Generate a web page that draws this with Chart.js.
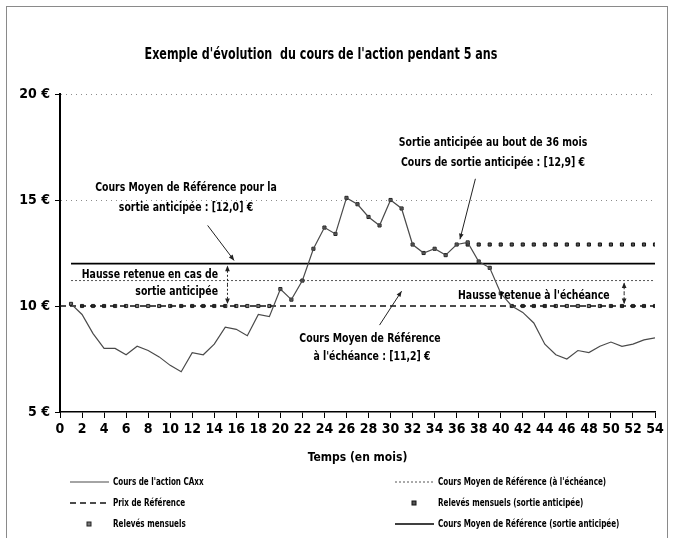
<!DOCTYPE html>
<html lang="fr">
<head>
<meta charset="utf-8">
<title>Exemple d'évolution du cours de l'action pendant 5 ans</title>
<script src="https://cdn.jsdelivr.net/npm/chart.js@4.4.1/dist/chart.umd.min.js"></script>
<style>
  html, body { margin: 0; padding: 0; background: #fff; }
</style>
</head>
<body>
<canvas id="evolution_cours" width="675" height="538"></canvas>
<script>
/* Données : cours mensuel de l'action et niveaux de référence */

const mois = [
    1, 2, 3, 4, 5, 6, 7, 8, 9, 10, 11, 12, 13, 14, 15, 16, 17, 18,
    19, 20, 21, 22, 23, 24, 25, 26, 27, 28, 29, 30, 31, 32, 33, 34, 35, 36,
    37, 38, 39, 40, 41, 42, 43, 44, 45, 46, 47, 48, 49, 50, 51, 52, 53, 54
];

const cours_action = [
    10.1, 9.6, 8.7, 8.0, 8.0, 7.7, 8.1, 7.9, 7.6, 7.2, 6.9, 7.8, 7.7, 8.2, 9.0, 8.9, 8.6, 9.6,
    9.5, 10.8, 10.3, 11.2, 12.7, 13.7, 13.4, 15.1, 14.8, 14.2, 13.8, 15.0, 14.6, 12.9, 12.5, 12.7, 12.4, 12.9,
    13.0, 12.1, 11.8, 10.6, 10.0, 9.7, 9.2, 8.2, 7.7, 7.5, 7.9, 7.8, 8.1, 8.3, 8.1, 8.2, 8.4, 8.5
];

const releves_mensuels = [
    10.1, 10, 10, 10, 10, 10, 10, 10, 10, 10, 10, 10, 10, 10, 10, 10, 10, 10,
    10, 10.8, 10.3, 11.2, 12.7, 13.7, 13.4, 15.1, 14.8, 14.2, 13.8, 15.0, 14.6, 12.9, 12.5, 12.7, 12.4, 12.9,
    13.0, 12.1, 11.8, 10.6, 10, 10, 10, 10, 10, 10, 10, 10, 10, 10, 10, 10, 10, 10
];

const mois_sortie = [37, 38, 39, 40, 41, 42, 43, 44, 45, 46, 47, 48, 49, 50, 51, 52, 53, 54];
const releves_sortie = [12.9, 12.9, 12.9, 12.9, 12.9, 12.9, 12.9, 12.9, 12.9, 12.9, 12.9, 12.9, 12.9, 12.9, 12.9, 12.9, 12.9, 12.9];

const mois_prix_reference = [0, 54];
const prix_reference = [10, 10];

const mois_cours_moyen = [1, 54];
const cours_moyen_echeance = [11.2, 11.2];
const cours_moyen_sortie = [12.0, 12.0];

const graduations_euros = [5, 10, 15, 20];
const graduations_mois = [0, 54, 2];

const police = "'Liberation Sans Narrow', 'DejaVu Sans Condensed', 'Liberation Sans', sans-serif";

function points(xs, ys) {
    return xs.map((x, i) => ({ x: x, y: ys[i] }));
}

/* Jeux de données : l'ordre correspond à la légende (colonne gauche puis droite) */

const data_evolution_cours = {
    datasets: [{
        label: "Cours de l'action CAxx",
        data: points(mois, cours_action),
        borderColor: '#4a4a4a',
        borderWidth: 1.2,
        pointRadius: 0,
        tension: 0,
    },
    {
        label: 'Prix de Référence',
        data: points(mois_prix_reference, prix_reference),
        borderColor: '#111',
        borderWidth: 1.5,
        borderDash: [6, 4],
        pointRadius: 0,
    },
    {
        label: 'Relevés mensuels',
        data: points(mois, releves_mensuels),
        showLine: false,
        pointStyle: 'rect',
        pointRadius: 2.2,
        backgroundColor: '#777',
        borderColor: '#222',
        borderWidth: 1,
    },
    {
        label: "Cours Moyen de Référence (à l'échéance)",
        data: points(mois_cours_moyen, cours_moyen_echeance),
        borderColor: '#555',
        borderWidth: 1,
        borderDash: [2, 2],
        pointRadius: 0,
    },
    {
        label: 'Relevés mensuels (sortie anticipée)',
        data: points(mois_sortie, releves_sortie),
        showLine: false,
        pointStyle: 'rect',
        pointRadius: 2.2,
        backgroundColor: '#555',
        borderColor: '#111',
        borderWidth: 1,
    },
    {
        label: 'Cours Moyen de Référence (sortie anticipée)',
        data: points(mois_cours_moyen, cours_moyen_sortie),
        borderColor: '#000',
        borderWidth: 1.6,
        pointRadius: 0,
    }
    ]
};

/* Flèches et textes d'annotation */

// texte gras étroit (police condensée resserrée horizontalement)
function texte(ctx, str, x, y, taille, align) {
    ctx.save();
    ctx.font = 'bold ' + taille + 'px ' + police;
    ctx.textAlign = align;
    ctx.textBaseline = 'middle';
    ctx.translate(x, y);
    ctx.scale(0.8, 1);
    ctx.fillText(str, 0, 0);
    ctx.restore();
}

function fleche(ctx, x1, y1, x2, y2, pointille) {
    ctx.save();
    ctx.strokeStyle = '#222';
    ctx.fillStyle = '#222';
    ctx.lineWidth = 1;
    ctx.setLineDash(pointille ? [2, 2] : []);
    ctx.beginPath();
    ctx.moveTo(x1, y1);
    ctx.lineTo(x2, y2);
    ctx.stroke();
    ctx.setLineDash([]);
    const a = Math.atan2(y2 - y1, x2 - x1);
    ctx.beginPath();
    ctx.moveTo(x2, y2);
    ctx.lineTo(x2 - 6 * Math.cos(a - 0.4), y2 - 6 * Math.sin(a - 0.4));
    ctx.lineTo(x2 - 6 * Math.cos(a + 0.4), y2 - 6 * Math.sin(a + 0.4));
    ctx.closePath();
    ctx.fill();
    ctx.restore();
}

function double_fleche(ctx, x, y1, y2) {
    const milieu = (y1 + y2) / 2;
    fleche(ctx, x, milieu, x, y1 + 2, true);
    fleche(ctx, x, milieu, x, y2 - 2, true);
}

const plugin_habillage = {
    id: 'habillage',
    beforeDraw(chart) {
        const ctx = chart.ctx;
        ctx.save();
        ctx.fillStyle = '#fff';
        ctx.fillRect(0, 0, chart.width, chart.height);
        ctx.strokeStyle = '#8a8a8a';
        ctx.lineWidth = 1;
        ctx.strokeRect(6.5, 6.5, 661, 540);
        ctx.restore();
    },
    afterDraw(chart) {
        const ctx = chart.ctx;
        const sx = chart.scales.x;
        const sy = chart.scales.y;
        const X = v => sx.getPixelForValue(v);
        const Y = v => sy.getPixelForValue(v);

        ctx.save();
        ctx.fillStyle = '#000';

        // titre
        texte(ctx, "Exemple d'évolution  du cours de l'action pendant 5 ans", 321, 55, 15.5, 'center');

        texte(ctx, 'Cours Moyen de Référence pour la', 186, 188, 13, 'center');
        texte(ctx, 'sortie anticipée : [12,0] €', 186, 208, 13, 'center');
        fleche(ctx, X(13.4), Y(13.8), X(15.8), Y(12.15), false);

        texte(ctx, 'Hausse retenue en cas de', 218, 275, 13, 'right');
        texte(ctx, 'sortie anticipée', 218, 292, 13, 'right');
        double_fleche(ctx, X(15.2), Y(cours_moyen_sortie[0]), Y(prix_reference[0]));

        texte(ctx, 'Sortie anticipée au bout de 36 mois', 493, 143, 13, 'center');
        texte(ctx, 'Cours de sortie anticipée : [12,9] €', 493, 163, 13, 'center');
        fleche(ctx, X(37.7), Y(16.0), X(36.3), Y(13.15), false);

        texte(ctx, 'Cours Moyen de Référence', 370, 339, 13, 'center');
        texte(ctx, "à l'échéance : [11,2] €", 372, 357, 13, 'center');
        fleche(ctx, X(29.0), Y(9.1), X(31.0), Y(10.7), false);

        texte(ctx, "Hausse retenue à l'échéance", 458, 296, 13, 'left');
        double_fleche(ctx, X(51.2), Y(cours_moyen_echeance[0]), Y(prix_reference[0]));

        // légende sur deux colonnes
        const colonnes = [70, 395];
        const lignes = [482, 503, 524];
        chart.data.datasets.forEach((ds, i) => {
            const x0 = colonnes[Math.floor(i / 3)];
            const y0 = lignes[i % 3];
            if (ds.showLine === false) {
                ctx.fillStyle = ds.backgroundColor;
                ctx.strokeStyle = ds.borderColor;
                ctx.lineWidth = 1;
                ctx.fillRect(x0 + 17, y0 - 2, 4, 4);
                ctx.strokeRect(x0 + 17, y0 - 2, 4, 4);
            } else {
                ctx.strokeStyle = ds.borderColor;
                ctx.lineWidth = ds.borderWidth;
                ctx.setLineDash(ds.borderDash || []);
                ctx.beginPath();
                ctx.moveTo(x0, y0);
                ctx.lineTo(x0 + 39, y0);
                ctx.stroke();
                ctx.setLineDash([]);
            }
            ctx.fillStyle = '#000';
            texte(ctx, ds.label, x0 + 43, y0, 10, 'left');
        });
        ctx.restore();
    }
};

const config_evolution_cours = {
    type: 'line',
    data: data_evolution_cours,
    plugins: [plugin_habillage],
    options: {
        responsive: false,
        animation: false,
        layout: { padding: { top: 94, right: 20, bottom: 70, left: 0 } },
        plugins: {
            legend: { display: false },
            tooltip: { enabled: false },
        },
        scales: {
            x: {
                type: 'linear',
                min: graduations_mois[0],
                max: graduations_mois[1],
                afterFit: s => { s.height = 56; },
                ticks: {
                    stepSize: graduations_mois[2],
                    padding: 3,
                    color: '#000',
                    font: { family: police, size: 14, weight: 'bold' },
                    maxRotation: 0,
                    autoSkip: false,
                },
                grid: { drawOnChartArea: false, drawTicks: true, tickLength: 6, tickColor: '#000' },
                border: { color: '#000', width: 1.5 },
                title: {
                    display: true,
                    text: 'Temps (en mois)',
                    color: '#000',
                    font: { family: police, size: 12, weight: 'bold' },
                    padding: { top: 0, bottom: 3 },
                },
            },
            y: {
                min: graduations_euros[0],
                max: graduations_euros[graduations_euros.length - 1],
                afterFit: s => { s.width = 60; },
                ticks: {
                    stepSize: 5,
                    padding: 5,
                    color: '#000',
                    font: { family: police, size: 14, weight: 'bold' },
                    callback: v => v + ' €',
                },
                grid: {
                    color: c => (c.tick && c.tick.value > 10) ? '#8c8c8c' : 'rgba(0,0,0,0)',
                    lineWidth: 1,
                    tickLength: 5,
                    tickColor: '#000',
                },
                border: { color: '#000', width: 2, dash: [1, 4] },
            },
        },
    },
};

const grafico_evolution_cours = new Chart(
    document.getElementById('evolution_cours'),
    config_evolution_cours
);
</script>
</body>
</html>
